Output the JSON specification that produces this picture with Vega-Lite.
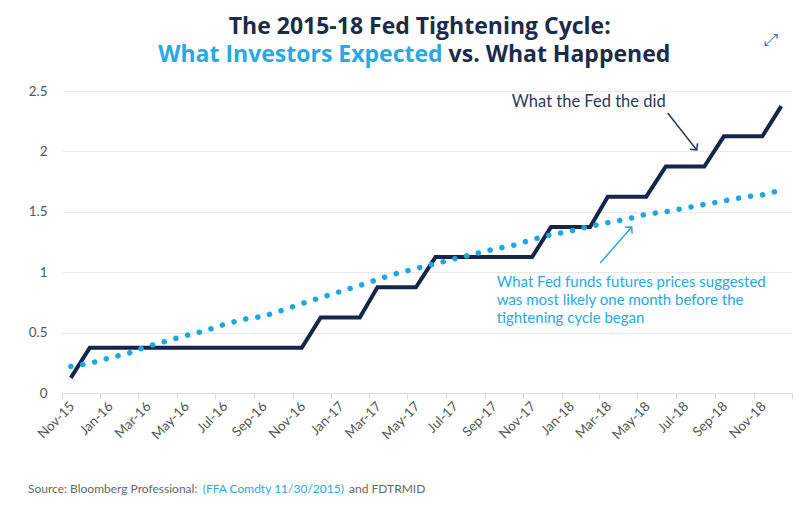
{
  "$schema": "https://vega.github.io/schema/vega-lite/v6.json",
  "width": 730,
  "height": 302,
  "autosize": {"type": "none"},
  "padding": {"left": 62, "top": 91, "right": 20, "bottom": 121},
  "background": "white",
  "config": {"view": {"stroke": null}, "font": "Lato"},
  "datasets": {
    "rates": [
      {"month": "2015-11-15", "fed": 0.125, "futures": 0.22},
      {"month": "2015-12-15", "fed": 0.375, "futures": 0.245},
      {"month": "2016-01-15", "fed": 0.375, "futures": 0.29},
      {"month": "2016-02-15", "fed": 0.375, "futures": 0.33},
      {"month": "2016-03-15", "fed": 0.375, "futures": 0.385},
      {"month": "2016-04-15", "fed": 0.375, "futures": 0.43},
      {"month": "2016-05-15", "fed": 0.375, "futures": 0.475},
      {"month": "2016-06-15", "fed": 0.375, "futures": 0.515},
      {"month": "2016-07-15", "fed": 0.375, "futures": 0.568},
      {"month": "2016-08-15", "fed": 0.375, "futures": 0.61},
      {"month": "2016-09-15", "fed": 0.375, "futures": 0.635},
      {"month": "2016-10-15", "fed": 0.375, "futures": 0.685},
      {"month": "2016-11-15", "fed": 0.375, "futures": 0.74},
      {"month": "2016-12-15", "fed": 0.625, "futures": 0.79},
      {"month": "2017-01-15", "fed": 0.625, "futures": 0.84},
      {"month": "2017-02-15", "fed": 0.625, "futures": 0.89},
      {"month": "2017-03-15", "fed": 0.875, "futures": 0.94},
      {"month": "2017-04-15", "fed": 0.875, "futures": 0.99},
      {"month": "2017-05-15", "fed": 0.875, "futures": 1.03},
      {"month": "2017-06-15", "fed": 1.125, "futures": 1.07},
      {"month": "2017-07-15", "fed": 1.125, "futures": 1.11},
      {"month": "2017-08-15", "fed": 1.125, "futures": 1.15},
      {"month": "2017-09-15", "fed": 1.125, "futures": 1.19},
      {"month": "2017-10-15", "fed": 1.125, "futures": 1.22},
      {"month": "2017-11-15", "fed": 1.125, "futures": 1.27},
      {"month": "2017-12-15", "fed": 1.375, "futures": 1.31},
      {"month": "2018-01-15", "fed": 1.375, "futures": 1.34},
      {"month": "2018-02-15", "fed": 1.375, "futures": 1.38},
      {"month": "2018-03-15", "fed": 1.625, "futures": 1.41},
      {"month": "2018-04-15", "fed": 1.625, "futures": 1.44},
      {"month": "2018-05-15", "fed": 1.625, "futures": 1.48},
      {"month": "2018-06-15", "fed": 1.875, "futures": 1.5},
      {"month": "2018-07-15", "fed": 1.875, "futures": 1.53},
      {"month": "2018-08-15", "fed": 1.875, "futures": 1.56},
      {"month": "2018-09-15", "fed": 2.125, "futures": 1.59},
      {"month": "2018-10-15", "fed": 2.125, "futures": 1.62},
      {"month": "2018-11-15", "fed": 2.125, "futures": 1.64},
      {"month": "2018-12-15", "fed": 2.375, "futures": 1.68}
    ],
    "title1": [{"date": "2017-05-21", "value": 3.03, "text": "The 2015-18 Fed Tightening Cycle:"}],
    "title2blue": [{"date": "2017-07-01", "value": 2.8, "text": "What Investors Expected"}],
    "title2navy": [{"date": "2017-07-01", "value": 2.8, "text": "vs. What  Happened"}],
    "icon": [{"date": "2018-11-28", "value": 2.922, "text": "⤢"}],
    "annoFed": [{"date": "2017-10-14", "value": 2.409, "text": "What the Fed the did"}],
    "annoFutures": [
      {"date": "2017-09-20", "value": 0.919, "text": "What Fed funds futures prices suggested"},
      {"date": "2017-09-20", "value": 0.77, "text": "was most likely one month before the"},
      {"date": "2017-09-20", "value": 0.621, "text": "tightening cycle began"}
    ],
    "arrowFed": [{"x1": "2018-06-18", "y1": 2.318, "x2": "2018-08-03", "y2": 2.012}],
    "arrowFutures": [{"x1": "2018-03-03", "y1": 1.076, "x2": "2018-04-22", "y2": 1.374}],
    "source1": [{"date": "2015-09-08", "value": -0.795, "text": "Source: Bloomberg Professional:"}],
    "source2": [{"date": "2016-06-11", "value": -0.795, "text": "(FFA Comdty 11/30/2015)"}],
    "source3": [{"date": "2017-01-29", "value": -0.795, "text": "and FDTRMID"}]
  },
  "layer": [
    {
      "data": {"name": "rates"},
      "mark": {"type": "line", "color": "#15254b", "strokeWidth": 4, "strokeJoin": "miter"},
      "encoding": {
        "x": {
          "field": "month",
          "type": "temporal",
          "scale": {
            "type": "utc",
            "domain": [
              {"year": 2015, "month": 11, "date": 1, "utc": true},
              {"year": 2019, "month": 1, "date": 1, "utc": true}
            ],
            "nice": false
          },
          "axis": {
            "title": null,
            "grid": false,
            "tickCount": {"interval": "month", "step": 2},
            "labelExpr": "utcyear(datum.value) > 2018 ? '' : utcFormat(datum.value, '%b-%y')",
            "domainColor": "#dcdcdc",
            "tickColor": "#dcdcdc",
            "tickSize": 6,
            "labelAngle": -45,
            "labelAlign": "right",
            "labelBaseline": "middle",
            "labelOffset": 10,
            "labelPadding": 5,
            "labelColor": "#555555",
            "labelFontSize": 13.5,
            "labelFont": "Lato",
            "labelFlush": false,
            "labelOverlap": false
          }
        },
        "y": {
          "field": "fed",
          "type": "quantitative",
          "scale": {"domain": [0, 2.5], "nice": false, "zero": true},
          "axis": {
            "title": null,
            "values": [0, 0.5, 1, 1.5, 2, 2.5],
            "format": "~g",
            "domain": false,
            "ticks": false,
            "gridColor": "#e8e8e8",
            "labelColor": "#555555",
            "labelFontSize": 13.5,
            "labelPadding": 15,
            "labelFont": "Lato"
          }
        }
      }
    },
    {
      "data": {"name": "rates"},
      "mark": {"type": "line", "color": "#1ea7e1", "strokeWidth": 5.5, "strokeDash": [0.1, 12], "strokeCap": "round"},
      "encoding": {
        "x": {"field": "month", "type": "temporal"},
        "y": {"field": "futures", "type": "quantitative"}
      }
    },
    {
      "data": {"name": "arrowFed"},
      "mark": {"type": "rule", "color": "#2b3a55", "strokeWidth": 1.5},
      "encoding": {
        "x": {"field": "x1", "type": "temporal"},
        "x2": {"field": "x2"},
        "y": {"field": "y1", "type": "quantitative"},
        "y2": {"field": "y2"}
      }
    },
    {
      "data": {"name": "arrowFed"},
      "mark": {"type": "point", "shape": "M -1 -1 L 0 0 L 1 -1", "filled": false, "size": 90, "strokeWidth": 1.5, "color": "#2b3a55", "angle": -38, "opacity": 1},
      "encoding": {
        "x": {"field": "x2", "type": "temporal"},
        "y": {"field": "y2", "type": "quantitative"}
      }
    },
    {
      "data": {"name": "arrowFutures"},
      "mark": {"type": "rule", "color": "#29a9e1", "strokeWidth": 1.5},
      "encoding": {
        "x": {"field": "x1", "type": "temporal"},
        "x2": {"field": "x2"},
        "y": {"field": "y1", "type": "quantitative"},
        "y2": {"field": "y2"}
      }
    },
    {
      "data": {"name": "arrowFutures"},
      "mark": {"type": "point", "shape": "M -1 -1 L 0 0 L 1 -1", "filled": false, "size": 90, "strokeWidth": 1.5, "color": "#29a9e1", "angle": -138, "opacity": 1},
      "encoding": {
        "x": {"field": "x2", "type": "temporal"},
        "y": {"field": "y2", "type": "quantitative"}
      }
    },
    {
      "data": {"name": "title1"},
      "mark": {"type": "text", "align": "center", "baseline": "middle", "fontSize": 23, "fontWeight": "bold", "color": "#1c2b4a", "font": "Open Sans"},
      "encoding": {
        "x": {"field": "date", "type": "temporal"},
        "y": {"field": "value", "type": "quantitative"},
        "text": {"field": "text"}
      }
    },
    {
      "data": {"name": "title2blue"},
      "mark": {"type": "text", "align": "right", "baseline": "middle", "dx": -3, "fontSize": 23, "fontWeight": "bold", "color": "#2aa8e0", "font": "Open Sans"},
      "encoding": {
        "x": {"field": "date", "type": "temporal"},
        "y": {"field": "value", "type": "quantitative"},
        "text": {"field": "text"}
      }
    },
    {
      "data": {"name": "title2navy"},
      "mark": {"type": "text", "align": "left", "baseline": "middle", "dx": 3, "fontSize": 23, "fontWeight": "bold", "color": "#1c2b4a", "font": "Open Sans"},
      "encoding": {
        "x": {"field": "date", "type": "temporal"},
        "y": {"field": "value", "type": "quantitative"},
        "text": {"field": "text"}
      }
    },
    {
      "data": {"name": "icon"},
      "mark": {"type": "text", "align": "center", "baseline": "middle", "fontSize": 17, "color": "#2f7fc1", "font": "DejaVu Sans"},
      "encoding": {
        "x": {"field": "date", "type": "temporal"},
        "y": {"field": "value", "type": "quantitative"},
        "text": {"field": "text"}
      }
    },
    {
      "data": {"name": "annoFed"},
      "mark": {"type": "text", "align": "left", "baseline": "middle", "fontSize": 16.5, "color": "#2b3a55", "font": "Lato"},
      "encoding": {
        "x": {"field": "date", "type": "temporal"},
        "y": {"field": "value", "type": "quantitative"},
        "text": {"field": "text"}
      }
    },
    {
      "data": {"name": "annoFutures"},
      "mark": {"type": "text", "align": "left", "baseline": "middle", "fontSize": 15, "color": "#29a9e1", "font": "Lato"},
      "encoding": {
        "x": {"field": "date", "type": "temporal"},
        "y": {"field": "value", "type": "quantitative"},
        "text": {"field": "text"}
      }
    },
    {
      "data": {"name": "source1"},
      "mark": {"type": "text", "align": "left", "baseline": "middle", "fontSize": 12, "color": "#666666", "font": "Lato"},
      "encoding": {
        "x": {"field": "date", "type": "temporal"},
        "y": {"field": "value", "type": "quantitative"},
        "text": {"field": "text"}
      }
    },
    {
      "data": {"name": "source2"},
      "mark": {"type": "text", "align": "left", "baseline": "middle", "fontSize": 12, "color": "#29a9e1", "font": "Lato"},
      "encoding": {
        "x": {"field": "date", "type": "temporal"},
        "y": {"field": "value", "type": "quantitative"},
        "text": {"field": "text"}
      }
    },
    {
      "data": {"name": "source3"},
      "mark": {"type": "text", "align": "left", "baseline": "middle", "fontSize": 12, "color": "#666666", "font": "Lato"},
      "encoding": {
        "x": {"field": "date", "type": "temporal"},
        "y": {"field": "value", "type": "quantitative"},
        "text": {"field": "text"}
      }
    }
  ]
}
